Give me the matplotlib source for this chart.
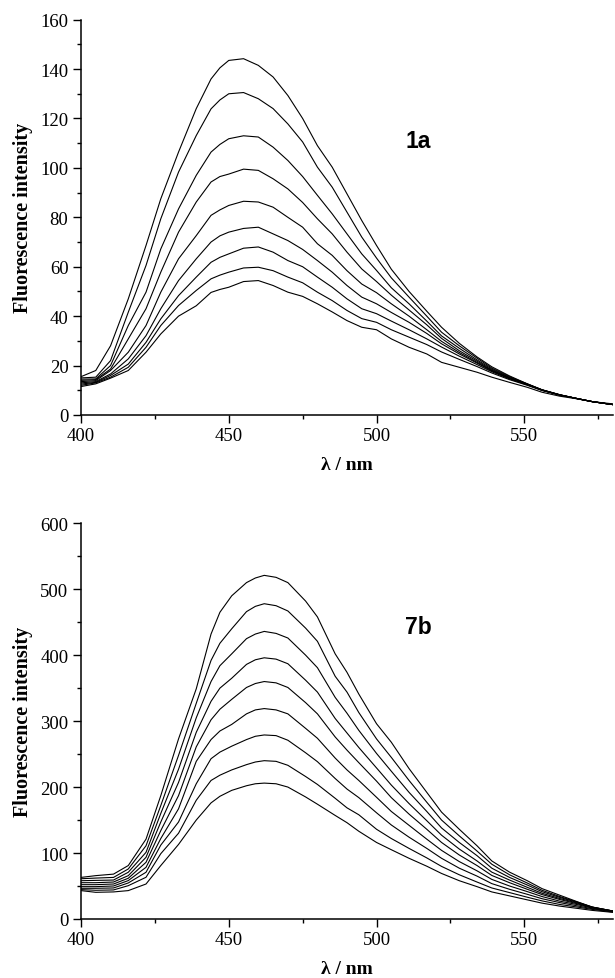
import matplotlib
matplotlib.use("Agg")
import matplotlib.pyplot as plt
from matplotlib.ticker import MultipleLocator

# ---------------- data ----------------
# panel 1a
wl_a = [400, 405, 410, 416, 422, 427, 433, 439, 444, 447, 450, 455, 460, 465, 470, 475,
        480, 485, 490, 495, 500, 505, 511, 517, 522, 528, 534, 539, 545, 551, 556,
        562, 568, 573, 580]
a1 = [15.5, 18, 28, 47, 68.6, 87.5, 106.4, 124, 136, 140.5, 143.5, 144.2, 141.5, 136.8, 129.3, 120,
      109, 100.3, 89.5, 78.7, 68.6, 59, 50, 42, 35.5, 29, 23.5, 19.5, 15.8, 12.6, 10.2,
      8.2, 6.6, 5.4, 4.2]
a2 = [15, 15.3, 22, 41.6, 60.5, 79.4, 98.3, 113.1, 123.9, 127.5, 130, 130.5, 128, 124, 117.8, 110.5,
      100.3, 92.2, 82.1, 72, 63.5, 55.5, 47.7, 40, 33.5, 28, 23, 19, 15.5, 12.6, 10.2,
      8.2, 6.6, 5.4, 4.2]
a3 = [14.5, 14.6, 20, 36.2, 49.7, 67.2, 83.4, 97, 106.4, 109.5, 111.8, 113, 112.5, 108.4, 103, 96.5,
      88.9, 81.4, 73.3, 65.2, 58.5, 51.5, 45, 38, 32, 27, 22.3, 18.6, 15.2, 12.5, 10.1,
      8.1, 6.6, 5.4, 4.2]
a4 = [14, 14.3, 18.6, 30.8, 43, 57.8, 74, 86.2, 94.3, 96.5, 97.5, 99.5, 99, 95.6, 91.5, 86,
      79.4, 73.3, 65.9, 59.1, 54, 48.5, 42.5, 36.5, 31, 26, 21.8, 18.2, 15, 12.4, 10.1,
      8.1, 6.6, 5.4, 4.2]
a5 = [13.5, 13.9, 18, 25.4, 36.2, 49.7, 63.2, 72.6, 80.8, 83, 84.8, 86.5, 86.2, 84.1, 80, 76,
      69.3, 64.6, 58.4, 53, 49.5, 45, 40, 34.5, 29.8, 25.3, 21.3, 18, 14.9, 12.3, 10.1,
      8.1, 6.6, 5.4, 4.2]
a6 = [13, 13.5, 16.6, 22.7, 32.1, 43, 54.4, 63.2, 70, 72.5, 74, 75.5, 76, 73.3, 70.6, 67,
      62.5, 57.8, 52.4, 47.7, 45, 41.5, 37.5, 33, 28.8, 24.7, 21, 17.8, 14.8, 12.3, 10.1,
      8.1, 6.6, 5.4, 4.2]
a7 = [12.5, 13.2, 16, 20.6, 29.4, 38.9, 48.3, 55.8, 61.8, 63.8, 65.2, 67.5, 68, 65.9, 62.5, 60,
      55.8, 51.7, 47, 43, 41, 38, 34.5, 30.8, 27.5, 23.8, 20.4, 17.5, 14.6, 12.2, 10,
      8.1, 6.6, 5.4, 4.2]
a8 = [12, 13, 15.3, 19.3, 27.4, 36.2, 44.3, 50.4, 55.1, 56.6, 57.8, 59.5, 59.8, 58.4, 55.8, 53.5,
      49.7, 46.3, 42.3, 39, 37.5, 34.5, 31.5, 28.5, 25.5, 22.5, 19.6, 17, 14.3, 12, 9.9,
      8, 6.6, 5.4, 4.2]
a9 = [11.5, 12.6, 14.9, 18, 25.4, 32.8, 40, 44.2, 49.6, 50.8, 51.7, 54, 54.4, 52.4, 49.7, 48,
      45, 41.7, 38.2, 35.5, 34.5, 30.8, 27.4, 24.7, 21.3, 19.3, 17.3, 15.3, 13.2, 11.2, 9.2,
      7.6, 6.5, 5.4, 4.5]
curves_a = [a1, a2, a3, a4, a5, a6, a7, a8, a9]

# panel 7b
wl_b = [400, 405, 411, 416, 422, 427, 433, 439, 444, 447, 451, 456, 459, 462, 466, 470, 476,
        480, 486, 490, 494, 500, 505, 511, 517, 522, 528, 534, 539, 545, 551, 556,
        562, 568, 573, 580]
b1 = [63, 65.7, 68, 81, 121, 187, 273, 349, 432, 465, 490, 510, 517, 521, 518, 510, 482,
      458, 402, 374, 341, 296, 268, 228, 192, 162, 136, 111, 88, 71, 58, 46,
      36, 26, 18, 12]
b2 = [61, 62, 63, 75.8, 111, 172, 248, 327, 392, 418, 440, 466, 474, 478, 475, 467, 441,
      421, 368, 344, 313, 273, 245, 210, 177, 150, 126, 103, 83, 67, 54.5, 43.5,
      34, 25.5, 18, 12]
b3 = [58, 58.5, 59, 70.8, 101, 160, 227, 305, 360, 384, 402, 425, 432, 436, 433, 426, 400,
      381, 336, 312, 286, 251, 224, 192, 163, 138, 116, 96, 77, 63, 51.5, 41.4,
      32.7, 24.9, 18, 12]
b4 = [55, 55, 56, 65.7, 93.5, 147, 207, 283, 330, 350, 365, 386, 393, 396, 394, 387, 362,
      344, 304, 282, 260, 229, 203, 175, 149, 127, 106, 88, 71, 59, 48, 39,
      31, 24, 17.5, 12]
b5 = [52, 52, 53, 61.7, 85.9, 134, 187, 261, 302, 318, 333, 351, 357, 360, 358, 351, 328,
      311, 276, 256, 237, 209, 184, 159, 136, 116, 97, 81, 66, 55, 45, 37,
      29.5, 23, 17, 11.5]
b6 = [49, 49, 50, 58.2, 78.3, 122, 167, 239, 272, 285, 295, 311, 317, 319, 317, 311, 289,
      274, 244, 226, 210, 184.5, 163, 142, 121, 104, 87, 73, 60, 50, 41.5, 34,
      27, 21.7, 16.5, 11.5]
b7 = [46.5, 46.5, 47, 54.6, 70.8, 112, 147, 205, 243, 253, 262, 272, 277, 279, 278, 271, 252,
      238.5, 213, 197, 184, 161, 142.5, 124, 107, 92, 77, 65, 53.6, 45, 37.4, 30.7,
      24.8, 19.8, 15.5, 11]
b8 = [44.5, 43.5, 44, 50.5, 63.2, 99, 130, 180, 210, 218, 226, 234, 238, 240, 239, 233, 216,
      204, 183, 168.5, 158, 136, 122, 107, 92.6, 79.7, 67, 56, 47, 40, 33, 27.4,
      22, 18, 14.5, 10.5]
b9 = [43, 40.4, 41, 43, 53, 81, 113, 150, 176, 186, 195, 202, 205, 206, 205, 200, 185,
      174, 157, 146, 133, 116, 105, 92, 80, 69, 58, 49, 41, 35, 29, 24,
      19.5, 16, 13, 10]
curves_b = [b1, b2, b3, b4, b5, b6, b7, b8, b9]

# ---------------- figure ----------------
plt.rcParams['font.family'] = ['Liberation Serif', 'DejaVu Serif']

fig = plt.figure(figsize=(6.15, 9.79), dpi=100)
ax_a = fig.add_axes([0.1317, 0.5751, 0.865, 0.4038])
ax_b = fig.add_axes([0.1317, 0.0603, 0.865, 0.4042])


def style_axis(ax, ymax, ymaj, ymin):
    ax.set_xlim(400, 580)
    ax.set_ylim(0, ymax)
    ax.xaxis.set_major_locator(MultipleLocator(50))
    ax.xaxis.set_minor_locator(MultipleLocator(25))
    ax.yaxis.set_major_locator(MultipleLocator(ymaj))
    ax.yaxis.set_minor_locator(MultipleLocator(ymin))
    for s in ['top', 'right']:
        ax.spines[s].set_visible(False)
    for s in ['left', 'bottom']:
        ax.spines[s].set_linewidth(1.1)
    ax.tick_params(which='major', direction='out', length=6, width=1.0,
                   labelsize=13.5, pad=3)
    ax.tick_params(which='minor', direction='out', length=3, width=1.0)
    ax.set_ylabel('Fluorescence intensity', fontsize=14.5, fontweight='bold',
                  labelpad=5)
    ax.set_xlabel('λ / nm', fontsize=14, fontweight='bold', labelpad=8)


for c in curves_a:
    ax_a.plot(wl_a, c, color='black', lw=0.8)
for c in curves_b:
    ax_b.plot(wl_b, c, color='black', lw=0.8)

style_axis(ax_a, 160, 20, 10)
style_axis(ax_b, 600, 100, 50)

ax_a.text(514, 111, '1a', fontsize=16.5, fontweight='bold',
          family=['Liberation Sans', 'DejaVu Sans'], ha='center', va='center')
ax_b.text(514, 443, '7b', fontsize=16.5, fontweight='bold',
          family=['Liberation Sans', 'DejaVu Sans'], ha='center', va='center')

fig.savefig('out.png', dpi=100)
